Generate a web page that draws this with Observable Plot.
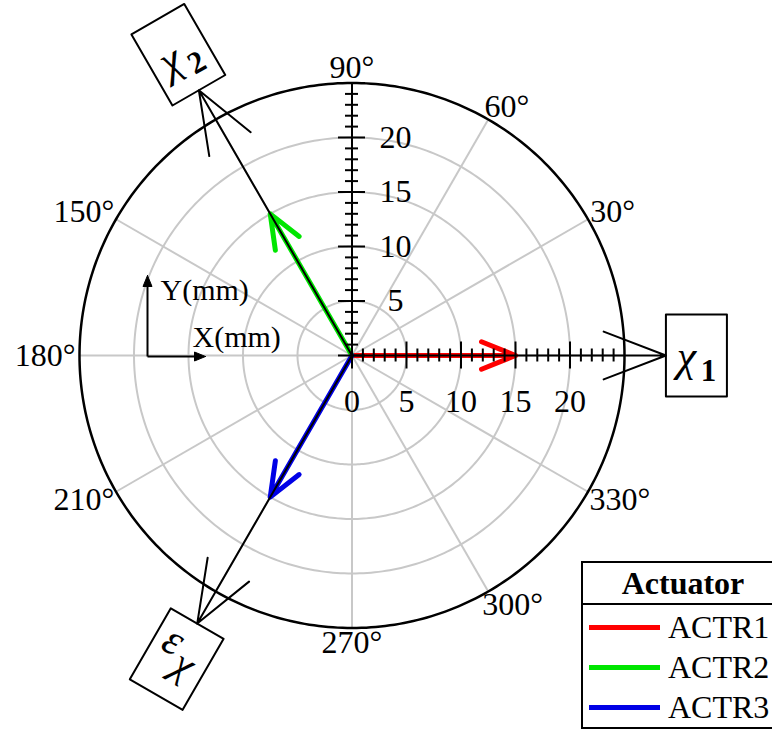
<!DOCTYPE html>
<html>
<head>
<meta charset="utf-8">
<script src="https://cdn.jsdelivr.net/npm/d3@7"></script>
<script src="https://cdn.jsdelivr.net/npm/@observablehq/plot@0.6"></script>
<style>
  html, body { margin: 0; padding: 0; background: #fff; overflow: hidden; }
  #wrap { position: relative; width: 772px; height: 729px; overflow: hidden; }
  .legend {
    position: absolute; left: 581px; top: 561px; width: 200px;
    border: 2px solid #000; background: #fff;
    font-family: "Liberation Serif", "Times New Roman", serif; font-size: 32px; color: #000;
  }
  .legend-title { height: 40px; line-height: 40px; text-align: center; font-weight: bold; border-bottom: 2px solid #000; }
  .legend-rows { padding-top: 2px; }
  .legend-row { height: 40px; display: flex; align-items: center; }
  .legend-swatch { width: 71px; height: 5px; margin-left: 6px; margin-right: 8px; }
</style>
</head>
<body>
<div id="wrap"></div>
<script>
// ---- data -------------------------------------------------------------
const actuators = ["ACTR1", "ACTR2", "ACTR3"];
const actuatorAngles = [0, 120, 240];          // degrees
const actuatorMagnitudes = [15, 15, 15];       // mm
const actuatorColors = ["#ff0000", "#00e600", "#0000e6"];

const frameSymbols = ["χ", "χ", "ε"];
const frameSubscripts = ["1", "2", "χ"];
const frameAngles = [0, 120, 240];             // degrees
const frameLengths = [28.8, 28.1, 28.4];       // mm, arrow tip distance

const gridRadii = [5, 10, 15, 20];
const outerRadius = 25;
const spokeAngles = [0, 30, 60, 90, 120, 150, 180, 210, 240, 270, 300, 330];
const angleLabels = [30, 60, 90, 150, 180, 210, 270, 300, 330];
const yTickLabels = [5, 10, 15, 20];
const xTickLabels = [0, 5, 10, 15, 20];
const yTickMax = 25;
const xTickMax = 24;

// ---- geometry helpers ------------------------------------------------
const W = 772, H = 729;
const k = 10.9;                 // pixels per mm
const cx = 351.5, cy = 355;     // pole position in the frame
const rad = (d) => (d * Math.PI) / 180;
const polar = (r, a) => [r * Math.cos(rad(a)), r * Math.sin(rad(a))];
// screen pixel offsets (y down) from the pole -> data units
const pxX = (p) => p / k;
const pxY = (p) => -p / k;

const ring = (r) => d3.range(0, 361, 1).map((a) => ({r, x: polar(r, a)[0], y: polar(r, a)[1]}));
const gridRings = gridRadii.flatMap(ring);
const outerRing = ring(outerRadius);

const isMajor = (d) => d % 5 === 0;
const tickHalf = (d) => pxX(isMajor(d) ? 13.5 : 6.5);
const yTicks = d3.range(0, yTickMax + 1);
const xTicks = d3.range(0, xTickMax + 1);

// angle labels sit just outside the rim, pushed out by half their box
const LABEL_SIZE = 32, LABEL_PAD = 4;
const angleLabelPos = (a) => {
  const [x0, y0] = polar(outerRadius, a);
  const c = Math.cos(rad(a)), s = Math.sin(rad(a));
  const hw = (String(a).length * 0.5 + 0.4) * LABEL_SIZE / 2;
  const hh = 11;
  const dx = Math.sign(c) * Math.sqrt(Math.abs(c)) * (LABEL_PAD + hw);
  const dy = s * (LABEL_PAD + hh);
  return [x0 + pxX(dx), y0 + dy / k];
};

// labelled boxes at the end of each frame axis
const BOX_W = 61, BOX_H = 82;
const frameBoxes = frameAngles.map((a, i) => {
  const t = rad(a);
  const dir = [Math.cos(t), -Math.sin(t)];
  const rot = 90 * Math.round(a / 90) - a;
  const r = rad(rot);
  const bx = [Math.cos(r), Math.sin(r)];
  const by = [-Math.sin(r), Math.cos(r)];
  const e = Math.abs(dir[0] * bx[0] + dir[1] * bx[1]) * BOX_W / 2 +
            Math.abs(dir[0] * by[0] + dir[1] * by[1]) * BOX_H / 2;
  const L = frameLengths[i] * k;
  const c = [(L + e) * dir[0], (L + e) * dir[1]];
  const at = (u, v) => [c[0] + u * bx[0] + v * by[0], c[1] + u * bx[1] + v * by[1]];
  return {i, rot, at};
});
const boxOutline = frameBoxes.flatMap((b) =>
  [[-1, -1], [1, -1], [1, 1], [-1, 1], [-1, -1]].map(([u, v]) => {
    const p = b.at(u * BOX_W / 2, v * BOX_H / 2);
    return {box: b.i, x: pxX(p[0]), y: pxY(p[1])};
  })
);
// glyph placement inside each box (box-local pixels)
const glyphLayout = (i) => frameSubscripts[i] === "χ"
  ? {sym: [-12, -15], sub: [9, 1]}
  : {sym: [-10, 1], sub: [12, 16]};
const boxGlyphs = frameBoxes.flatMap((b) => {
  const g = glyphLayout(b.i);
  const s = b.at(...g.sym), u = b.at(...g.sub);
  const greekSub = frameSubscripts[b.i] === "χ";
  return [
    {text: frameSymbols[b.i], x: pxX(s[0]), y: pxY(s[1]), rot: b.rot, size: 44, weight: "normal", style: "italic"},
    {text: frameSubscripts[b.i], x: pxX(u[0]), y: pxY(u[1]), rot: b.rot,
     size: greekSub ? 42 : 31, weight: greekSub ? "normal" : "bold", style: greekSub ? "italic" : "normal"}
  ];
});

// X/Y direction indicator (pixel offsets from the pole)
const ind = {ox: -204.5, oy: 1, up: -80, right: -146.5};
const indLines = [
  {x1: ind.ox, y1: ind.oy, x2: ind.ox, y2: ind.up + 8},
  {x1: ind.ox, y1: ind.oy, x2: ind.right - 8, y2: ind.oy}
];
const indHeads = [
  [[ind.ox, ind.up], [ind.ox - 4.5, ind.up + 11], [ind.ox + 4.5, ind.up + 11], [ind.ox, ind.up]],
  [[ind.right, ind.oy], [ind.right - 11, ind.oy - 4.5], [ind.right - 11, ind.oy + 4.5], [ind.right, ind.oy]]
].flatMap((tri, h) => tri.map(([x, y]) => ({h, x: pxX(x), y: pxY(y)})));

const serif = "Liberation Serif";
const gray = "#c8c8c8";

const chart = Plot.plot({
  width: W,
  height: H,
  marginTop: 0, marginRight: 0, marginBottom: 0, marginLeft: 0,
  x: {domain: [-cx / k, (W - cx) / k], axis: null},
  y: {domain: [-(H - cy) / k, cy / k], axis: null},
  style: {background: "white", fontFamily: serif, overflow: "visible"},
  marks: [
    // polar grid
    Plot.line(gridRings, {x: "x", y: "y", z: "r", stroke: gray, strokeWidth: 2}),
    Plot.link(spokeAngles, {
      x1: () => 0, y1: () => 0,
      x2: (a) => polar(outerRadius, a)[0], y2: (a) => polar(outerRadius, a)[1],
      stroke: gray, strokeWidth: 2
    }),
    Plot.line(outerRing, {x: "x", y: "y", stroke: "black", strokeWidth: 2.5}),

    // actuator vectors
    ...actuators.map((name, i) => Plot.arrow([i], {
      x1: () => 0, y1: () => 0,
      x2: (j) => polar(actuatorMagnitudes[j], actuatorAngles[j])[0],
      y2: (j) => polar(actuatorMagnitudes[j], actuatorAngles[j])[1],
      stroke: actuatorColors[i], strokeWidth: 5, headLength: 11, headAngle: 44,
      strokeLinecap: "round"
    })),

    // frame axes χ1, χ2, εχ
    Plot.arrow(frameAngles.map((a, i) => i), {
      x1: () => 0, y1: () => 0,
      x2: (i) => polar(frameLengths[i], frameAngles[i])[0],
      y2: (i) => polar(frameLengths[i], frameAngles[i])[1],
      stroke: "black", strokeWidth: 2, headLength: 50, headAngle: 42
    }),

    // vertical scale axis with ticks
    Plot.link([yTickMax], {x1: () => 0, y1: () => 0, x2: () => 0, y2: (d) => d, stroke: "black", strokeWidth: 2}),
    Plot.ruleY(yTicks, {y: (d) => d, x1: (d) => -tickHalf(d), x2: (d) => tickHalf(d), stroke: "black", strokeWidth: 2}),
    Plot.ruleX(xTicks, {x: (d) => d, y1: (d) => -tickHalf(d), y2: (d) => tickHalf(d), stroke: "black", strokeWidth: 2}),

    // tick labels
    Plot.text(yTickLabels, {x: () => pxX(43.5), y: (d) => d, text: (d) => `${d}`, fontSize: 32, fontFamily: serif, fill: "black"}),
    Plot.text(xTickLabels, {x: (d) => d, y: () => pxY(46), text: (d) => `${d}`, fontSize: 32, fontFamily: serif, fill: "black"}),

    // angle labels
    Plot.text(angleLabels, {
      x: (a) => angleLabelPos(a)[0], y: (a) => angleLabelPos(a)[1],
      text: (a) => `${a}°`, fontSize: LABEL_SIZE, fontFamily: serif, fill: "black"
    }),

    // axis boxes
    Plot.line(boxOutline, {x: "x", y: "y", z: "box", stroke: "black", strokeWidth: 2}),
    ...boxGlyphs.map((g) => Plot.text([g], {
      x: "x", y: "y", text: "text", rotate: g.rot,
      fontSize: g.size, fontWeight: g.weight, fontStyle: g.style, fontFamily: serif, fill: "black"
    })),

    // X/Y direction indicator
    Plot.link(indLines, {
      x1: (d) => pxX(d.x1), y1: (d) => pxY(d.y1), x2: (d) => pxX(d.x2), y2: (d) => pxY(d.y2),
      stroke: "black", strokeWidth: 2
    }),
    Plot.line(indHeads, {x: "x", y: "y", z: "h", fill: "black", stroke: "black", strokeWidth: 1}),
    Plot.text(["Y(mm)"], {x: () => pxX(-191.5), y: () => pxY(-65), text: (d) => d, textAnchor: "start", fontSize: 30, fontFamily: serif, fill: "black"}),
    Plot.text(["X(mm)"], {x: () => pxX(-159.5), y: () => pxY(-18), text: (d) => d, textAnchor: "start", fontSize: 30, fontFamily: serif, fill: "black"})
  ]
});

const wrap = document.getElementById("wrap");
wrap.appendChild(chart);

// legend
const legend = document.createElement("div");
legend.className = "legend";
const title = document.createElement("div");
title.className = "legend-title";
title.textContent = "Actuator";
legend.appendChild(title);
const rows = document.createElement("div");
rows.className = "legend-rows";
actuators.forEach((name, i) => {
  const row = document.createElement("div");
  row.className = "legend-row";
  const sw = document.createElement("span");
  sw.className = "legend-swatch";
  sw.style.background = actuatorColors[i];
  const label = document.createElement("span");
  label.textContent = name;
  row.appendChild(sw);
  row.appendChild(label);
  rows.appendChild(row);
});
legend.appendChild(rows);
wrap.appendChild(legend);
</script>
</body>
</html>
